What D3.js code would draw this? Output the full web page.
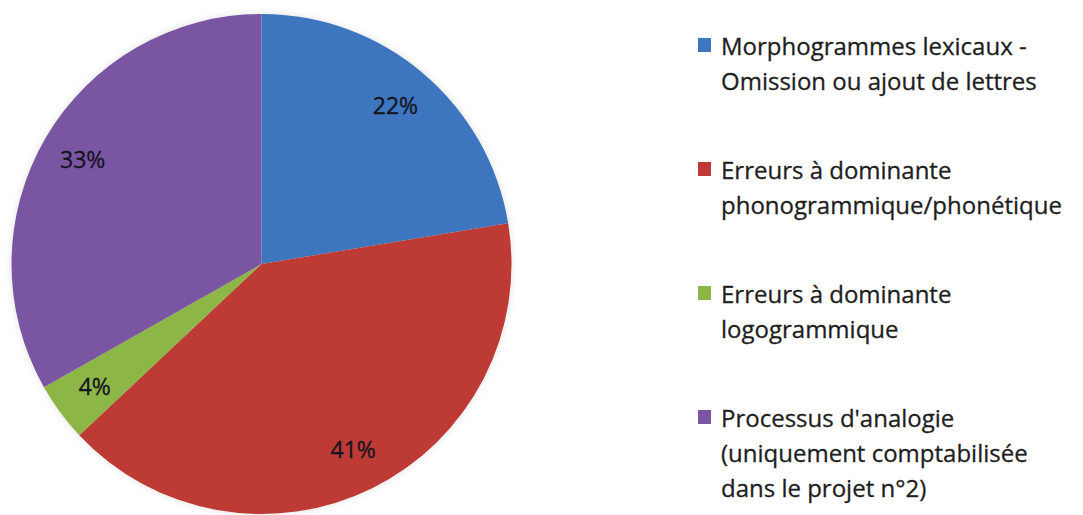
<!DOCTYPE html>
<html>
<head>
<meta charset="utf-8">
<script src="https://cdn.jsdelivr.net/npm/d3@7"></script>
<style>
  html, body { margin: 0; padding: 0; background: #fff; }
  svg { display: block; }
</style>
</head>
<body>
<svg id="canvas"></svg>
<script>
/***********************************************************************/
// Data

var categories = [
  ["Morphogrammes lexicaux -", "Omission ou ajout de lettres"],
  ["Erreurs à dominante", "phonogrammique/phonétique"],
  ["Erreurs à dominante", "logogrammique"],
  ["Processus d'analogie", "(uniquement comptabilisée", "dans le projet n°2)"]
];
var values = [22.4, 40.6, 3.8, 33.2];
var colors = ["#3e76bf", "#be3a36", "#8cb645", "#7a56a2"];

/***********************************************************************/
// Layout

var width = 1083, height = 515;
var cx = 261.5, cy = 264, radius = 250;
var labelRadius = 207;
var font = "'Open Sans', sans-serif";

var svg = d3.select('#canvas').attr('width', width).attr('height', height);

var defs = svg.append('defs');
var blur = defs.append('filter').attr('id', 'soft').attr('x', '-10%').attr('y', '-10%').attr('width', '120%').attr('height', '120%');
blur.append('feGaussianBlur').attr('stdDeviation', 0.7);

var shadow = defs.append('filter').attr('id', 'shadow').attr('x', '-10%').attr('y', '-10%').attr('width', '120%').attr('height', '120%');
shadow.append('feGaussianBlur').attr('stdDeviation', 3);

/***********************************************************************/
// Pie

var pie = d3.pie().sort(null).value(d => d);
var arcs = pie(values);
var arc = d3.arc().innerRadius(0).outerRadius(radius);
var labelArc = d3.arc().innerRadius(labelRadius).outerRadius(labelRadius);

var g = svg.append('g').attr('transform', `translate(${cx},${cy})`);

g.append('circle').attr('r', radius + 1).attr('fill', '#d8d8d8').attr('opacity', 0.6).attr('filter', 'url(#shadow)');

g.append('g').attr('filter', 'url(#soft)')
  .selectAll('path').data(arcs).enter().append('path')
  .attr('d', arc)
  .attr('fill', (d, i) => colors[i]);

g.selectAll('text.pct').data(arcs).enter().append('text')
  .attr('class', 'pct')
  .attr('transform', d => `translate(${labelArc.centroid(d)})`)
  .attr('text-anchor', 'middle')
  .attr('dy', '0.35em')
  .style('font-family', font)
  .style('font-size', '23px')
  .style('fill', '#141420')
  .style('stroke', '#141420')
  .style('stroke-width', 0.3)
  .text(d => Math.round(d.data) + '%');

/***********************************************************************/
// Legend

var legendX = 698, textX = 721, lineHeight = 35, groupGap = 54;
var legend = svg.append('g');
var y = 55;

categories.forEach((lines, i) => {
  legend.append('rect')
    .attr('x', legendX).attr('y', y - 17)
    .attr('width', 13).attr('height', 14)
    .attr('fill', colors[i]);

  var t = legend.append('text')
    .attr('x', textX).attr('y', y)
    .style('font-family', font)
    .style('font-size', '24px')
    .style('fill', '#1e1e1e')
    .style('stroke', '#1e1e1e')
    .style('stroke-width', 0.3);
  lines.forEach((line, j) => {
    t.append('tspan').attr('x', textX).attr('y', y + j * lineHeight).text(line);
  });
  y += lines.length * lineHeight + groupGap;
});
</script>
</body>
</html>
